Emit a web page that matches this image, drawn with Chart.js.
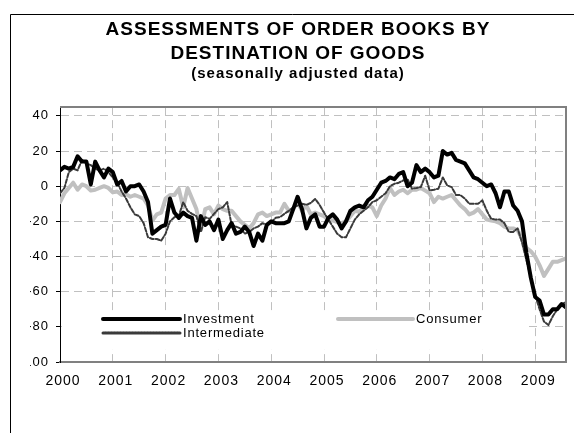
<!DOCTYPE html>
<html>
<head>
<meta charset="utf-8">
<script src="https://cdn.jsdelivr.net/npm/chart.js@4.4.1/dist/chart.umd.min.js"></script>
<style>
  html, body { margin: 0; padding: 0; background: #fff; width: 574px; height: 433px; overflow: hidden; }
  #wrap { position: relative; width: 574px; height: 433px; overflow: hidden; }
  canvas { position: absolute; left: 0; top: 0; }
</style>
</head>
<body>
<div id="wrap">
  <canvas id="c" width="574" height="433"></canvas>
</div>
<script>
// ---- Data (monthly, Jan 2000 .. Aug 2009) ----
const titleLines = ['ASSESSMENTS OF ORDER BOOKS BY', 'DESTINATION OF GOODS'];
const subtitleText = '(seasonally adjusted data)';
const yearLabels = ['2000','2001','2002','2003','2004','2005','2006','2007','2008','2009'];
const yTicks = [-100, -80, -60, -40, -20, 0, 20, 40];
const seriesNames = ['Investment', 'Consumer', 'Intermediate'];

const investment = [
  9, 11, 10, 11, 17, 14, 14, 1, 14, 9, 5, 10, 8, 1, 3, -3, 0, 0, 1, -3,
  -9, -27, -25, -23, -22, -7, -15, -18, -15, -17, -18, -31, -17, -22, -20, -25, -19, -30, -25, -21,
  -27, -26, -23, -26, -34, -27, -31, -22, -20, -21, -21, -21, -20, -13, -6, -13, -24, -18, -16, -23,
  -23, -18, -16, -19, -24, -20, -14, -12, -11, -12, -8, -6, -2, 2, 3, 5, 4, 7, 8, 0,
  2, 12, 8, 10, 8, 5, 6, 20, 18, 19, 15, 14, 13, 9, 5, 4, 2, 0, 1, -4,
  -12, -3, -3, -11, -14, -20, -38, -52, -63, -65, -73, -73, -70, -70, -67, -69
];
const consumer = [
  -9, -4, -1, 2, -2, 1, 0, -2.5, -2, -1, 0, -1, -3.5, -3, -5, -4.5, -6, -5, -6, -7,
  -11, -19.5, -16, -15, -7, -5, -5, -1.5, -12, -1, -7, -13, -25, -13, -12, -16, -11, -13, -14, -14,
  -17, -20, -22, -24, -21, -16, -15, -17, -16, -15, -15, -10, -14, -13, -9, -14, -11, -16, -15, -16,
  -17, -19, -19.5, -20.5, -21, -20, -17, -14, -14.5, -12, -11, -12, -17, -11, -7, -1, -5, -3, -2, -4,
  -2, -2, -1, -2.5, -4, -9, -6, -7, -6, -5, -8, -11, -13, -16, -15, -13, -16, -19, -19.5, -20,
  -21, -23, -24, -24, -25, -30, -35, -37, -40, -45, -51, -47, -43, -43, -42, -41
];
const intermediate = [
  -4, -1, 8, 10, 9, 15, 13, 12, 10, 9, 10, 8, 5, 2, -3, -7, -12, -16, -17, -21,
  -29, -30, -30, -31, -27, -20, -17.6, -17, -9, -14, -15.7, -17, -26, -17.6, -18.6, -15.7, -13, -12, -9, -22,
  -23, -24, -27, -26, -24, -23, -21, -22, -20.5, -18, -17.6, -15.7, -14, -12, -11, -10, -10.6, -9.5, -7.2, -10.6,
  -15, -19, -23, -27, -29, -29, -24, -19, -16, -14, -12, -9, -8, -6, -4, 0, 1.4, 2, 3.3, 4,
  -1.4, -1, -0.5, 6, -2.4, -2, -1.4, 5, 0.4, -0.5, -5, -5, -7, -10, -10, -10, -8, -14, -18.5, -19,
  -19, -21, -26, -26, -24, -32, -42, -52, -62, -70, -77, -79, -74, -70, -67, -66
];

// ---- Chart ----
const FONT = "'Liberation Sans', Arial, sans-serif";
const toPoints = arr => arr.map((v, i) => ({ x: i, y: v }));
const lastIndex = investment.length - 1;

const datasets = [
  { label: seriesNames[0], data: toPoints(investment), borderColor: '#000000', borderWidth: 4, order: 0 },
  { label: seriesNames[1], data: toPoints(consumer), borderColor: '#c0c0c0', borderWidth: 4, order: 2 },
  { label: seriesNames[2], data: toPoints(intermediate), borderColor: '#3a3a3a', borderWidth: 2, borderDash: [4, 2], order: 1 }
];

// legend drawn inside the plot (white box), plot frame and outer frame
const legendSlots = [
  { x: 103, y: 319, w: 77 },  // Investment
  { x: 338, y: 319, w: 75 },  // Consumer
  { x: 103, y: 333, w: 77 }   // Intermediate
];
const chartDecor = {
  id: 'chartDecor',
  beforeDraw(chart) { chart.ctx.letterSpacing = '1px'; },
  beforeDatasetsDraw(chart) {
    const ctx = chart.ctx;
    ctx.save();
    ctx.fillStyle = '#ffffff';
    ctx.fillRect(62, 311, 466, 38);
    chart.data.datasets.forEach((ds, i) => {
      const s = legendSlots[i];
      ctx.save();
      ctx.strokeStyle = ds.borderColor;
      ctx.lineWidth = ds.borderDash ? 3 : 4;
      ctx.lineCap = 'round';
      ctx.setLineDash(ds.borderDash ? [2, 1] : []);
      ctx.beginPath();
      ctx.moveTo(s.x, s.y);
      ctx.lineTo(s.x + s.w, s.y);
      ctx.stroke();
      ctx.restore();
      ctx.save();
      ctx.fillStyle = '#000';
      ctx.font = '13px ' + FONT;
      ctx.textBaseline = 'middle';
      ctx.textAlign = 'left';
      ctx.letterSpacing = '0.8px';
      ctx.fillText(ds.label, s.x + s.w + 3, s.y);
      ctx.restore();
    });
    ctx.restore();
  },
  afterDatasetsDraw(chart) {
    const { ctx, chartArea: a } = chart;
    ctx.save();
    ctx.setLineDash([]);
    ctx.strokeStyle = '#808080';
    ctx.lineWidth = 2;
    ctx.beginPath();
    ctx.moveTo(a.left, a.top);
    ctx.lineTo(a.right, a.top);
    ctx.lineTo(a.right, a.bottom);
    ctx.stroke();
    ctx.strokeStyle = '#000';
    ctx.lineWidth = 1;
    ctx.beginPath();
    ctx.moveTo(10.5, 433);
    ctx.lineTo(10.5, 14.5);
    ctx.lineTo(574, 14.5);
    ctx.stroke();
    ctx.restore();
  }
};

const chart = new Chart(document.getElementById('c'), {
  type: 'line',
  data: { datasets },
  options: {
    responsive: false, animation: false, devicePixelRatio: 1,
    layout: { padding: { top: 0, right: 8, bottom: 0, left: 30 } },
    plugins: {
      legend: { display: false },
      tooltip: { enabled: false },
      title: {
        display: true, text: titleLines, color: '#000',
        font: { family: FONT, size: 19, weight: 'bold', lineHeight: 1.24 },
        padding: { top: 18, bottom: 0 }
      },
      subtitle: {
        display: true, text: subtitleText, color: '#000',
        font: { family: FONT, size: 15, weight: 'bold', lineHeight: 1.2 },
        padding: { top: 0, bottom: 24 }
      }
    },
    elements: { point: { radius: 0, hoverRadius: 0 }, line: { tension: 0, borderJoinStyle: 'round', borderCapStyle: 'round' } },
    scales: {
      x: {
        type: 'linear', position: 'bottom', min: 0, max: lastIndex,
        afterBuildTicks: s => { s.ticks = yearLabels.map((_, i) => ({ value: i * 12 })); },
        afterFit: s => { s.height = 71; },
        ticks: { autoSkip: false, maxRotation: 0, callback: v => yearLabels[Math.round(v / 12)], font: { family: FONT, size: 14 }, color: '#000', padding: 11, labelOffset: 3 },
        grid: { color: '#c0c0c0', lineWidth: 1, drawTicks: false },
        border: { color: '#808080', width: 2, dash: [8, 5] }
      },
      y: {
        type: 'linear', position: 'left', min: -100, max: 45,
        afterBuildTicks: s => { s.ticks = yTicks.map(v => ({ value: v })); },
        afterFit: s => { s.width = 30; },
        ticks: { font: { family: FONT, size: 13 }, color: '#000', padding: 7 },
        grid: { color: '#c0c0c0', lineWidth: 1, drawTicks: true, tickLength: 4, tickColor: '#000', tickWidth: 1 },
        border: { color: '#000', width: 1, dash: [8, 5] }
      }
    }
  },
  plugins: [chartDecor]
});
</script>
</body>
</html>
